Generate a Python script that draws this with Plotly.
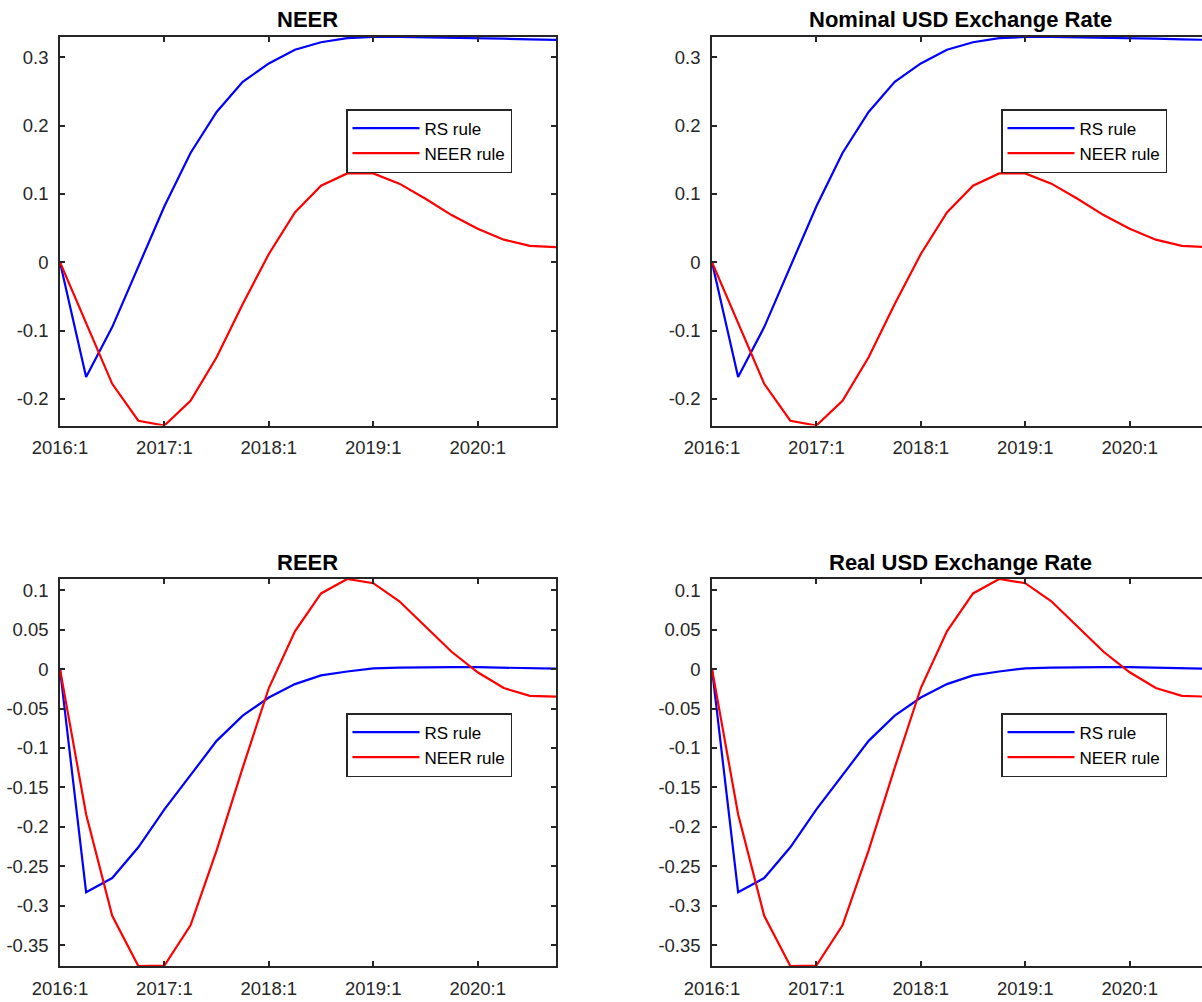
import plotly.graph_objects as go

# ---------------- data ----------------
quarters = ["2016:1", "2016:2", "2016:3", "2016:4",
            "2017:1", "2017:2", "2017:3", "2017:4",
            "2018:1", "2018:2", "2018:3", "2018:4",
            "2019:1", "2019:2", "2019:3", "2019:4",
            "2020:1", "2020:2", "2020:3", "2020:4"]
year_ticks = ["2016:1", "2017:1", "2018:1", "2019:1", "2020:1"]

neer_rs = [0, -0.168, -0.095, -0.006, 0.082, 0.160, 0.220, 0.264, 0.291, 0.311,
           0.322, 0.328, 0.3297, 0.3297, 0.3293, 0.3287, 0.328, 0.3272, 0.3263, 0.3255]
neer_neer = [0, -0.088, -0.178, -0.232, -0.239, -0.203, -0.139, -0.061, 0.012, 0.073,
             0.112, 0.130, 0.130, 0.115, 0.093, 0.069, 0.049, 0.033, 0.024, 0.022]

nusd_rs = [0, -0.168, -0.095, -0.006, 0.082, 0.160, 0.220, 0.264, 0.291, 0.311,
           0.322, 0.328, 0.3297, 0.3297, 0.3293, 0.3287, 0.328, 0.3272, 0.3263, 0.3255]
nusd_neer = [0, -0.088, -0.178, -0.232, -0.239, -0.203, -0.139, -0.061, 0.012, 0.073,
             0.112, 0.130, 0.130, 0.115, 0.093, 0.069, 0.049, 0.033, 0.024, 0.022]

reer_rs = [0, -0.283, -0.265, -0.226, -0.178, -0.134, -0.091, -0.059, -0.036, -0.019,
           -0.008, -0.003, 0.001, 0.002, 0.0025, 0.0025, 0.0025, 0.002, 0.001, 0.0005]
reer_neer = [0, -0.184, -0.313, -0.3766, -0.376, -0.325, -0.230, -0.125, -0.024, 0.048,
             0.096, 0.1143, 0.109, 0.086, 0.054, 0.022, -0.004, -0.024, -0.034, -0.035]

rusd_rs = [0, -0.283, -0.265, -0.226, -0.178, -0.134, -0.091, -0.059, -0.036, -0.019,
           -0.008, -0.003, 0.001, 0.002, 0.0025, 0.0025, 0.0025, 0.002, 0.001, 0.0005]
rusd_neer = [0, -0.184, -0.313, -0.3766, -0.376, -0.325, -0.230, -0.125, -0.024, 0.048,
             0.096, 0.1143, 0.109, 0.086, 0.054, 0.022, -0.004, -0.024, -0.034, -0.035]

titles = ["NEER", "Nominal USD Exchange Rate", "REER", "Real USD Exchange Rate"]
series_names = ["RS rule", "NEER rule"]

top_ticks = [-0.2, -0.1, 0, 0.1, 0.2, 0.3]
top_ticktext = ["-0.2", "-0.1", "0", "0.1", "0.2", "0.3"]
bot_ticks = [-0.35, -0.3, -0.25, -0.2, -0.15, -0.1, -0.05, 0, 0.05, 0.1]
bot_ticktext = ["-0.35", "-0.3", "-0.25", "-0.2", "-0.15", "-0.1", "-0.05", "0", "0.05", "0.1"]
top_range = [-0.239, 0.3297]
bot_range = [-0.3766, 0.1143]

# ---------------- layout geometry ----------------
W, H = 1210, 1002
FONT = "Liberation Sans, Arial, Helvetica, sans-serif"
AX = "#262626"
x_dom = [[60 / W, 556 / W], [712 / W, 1208 / W]]
y_dom = [[(H - 425.5) / H, (H - 37) / H], [(H - 966) / H, (H - 579) / H]]

panels = [
    (neer_rs, neer_neer, 0, 0, top_ticks, top_ticktext, top_range),
    (nusd_rs, nusd_neer, 1, 0, top_ticks, top_ticktext, top_range),
    (reer_rs, reer_neer, 0, 1, bot_ticks, bot_ticktext, bot_range),
    (rusd_rs, rusd_neer, 1, 1, bot_ticks, bot_ticktext, bot_range),
]

fig = go.Figure()
layout = dict(
    width=W, height=H,
    margin=dict(l=0, r=0, t=0, b=0, autoexpand=False),
    paper_bgcolor="white", plot_bgcolor="white",
    font=dict(family=FONT, color=AX),
    annotations=[],
    hovermode=False,
)

legend_pos = [(346, 109), (1001, 109), (346, 713), (1001, 713)]

for k, (rs, nr, col, row, yt, ytt, yr) in enumerate(panels):
    sfx = "" if k == 0 else str(k + 1)
    leg = "legend" + sfx
    for vals, name, color in ((rs, series_names[0], "#0000FF"), (nr, series_names[1], "#FF0000")):
        fig.add_trace(go.Scatter(
            x=quarters, y=vals, mode="lines", name=name,
            line=dict(color=color, width=2.2),
            xaxis="x" + sfx, yaxis="y" + sfx, legend=leg, showlegend=True,
            hoverinfo="skip",
        ))
    axcommon = dict(showline=True, linecolor=AX, linewidth=1.5, mirror="ticks",
                    ticks="inside", ticklen=5, tickwidth=1.5, tickcolor=AX,
                    showgrid=False, zeroline=False, automargin=False,
                    tickfont=dict(family=FONT, size=18.5, color=AX))
    layout["xaxis" + sfx] = dict(
        axcommon, domain=x_dom[col], anchor="y" + sfx, type="category",
        categoryorder="array", categoryarray=quarters,
        range=[0, len(quarters) - 1],
        tickmode="array", tickvals=year_ticks, ticktext=year_ticks,
        ticklabelstandoff=5,
    )
    layout["yaxis" + sfx] = dict(
        axcommon, domain=y_dom[row], anchor="x" + sfx,
        range=yr, tickmode="array", tickvals=yt, ticktext=ytt,
        ticklabelstandoff=6,
    )
    lx, ly = legend_pos[k]
    layout[leg] = dict(
        x=lx / W, y=(H - ly) / H, xanchor="left", yanchor="top",
        xref="paper", yref="paper",
        bgcolor="white", bordercolor=AX, borderwidth=1.5,
        font=dict(family=FONT, size=17, color="#000000"),
        itemwidth=67, tracegroupgap=0,
    )
    layout["annotations"].append(dict(
        text="<b>" + titles[k] + "</b>", showarrow=False,
        xref="paper", yref="paper",
        x=(x_dom[col][0] + x_dom[col][1]) / 2, xanchor="center",
        y=y_dom[row][1], yanchor="middle", yshift=17,
        font=dict(family=FONT, size=22, color="#000000"),
    ))

fig.update_layout(**layout)

fig.write_html(
    "out.html",
    config={"displayModeBar": False},
    post_script="document.body.style.margin='0';document.body.style.overflow='hidden';",
)
